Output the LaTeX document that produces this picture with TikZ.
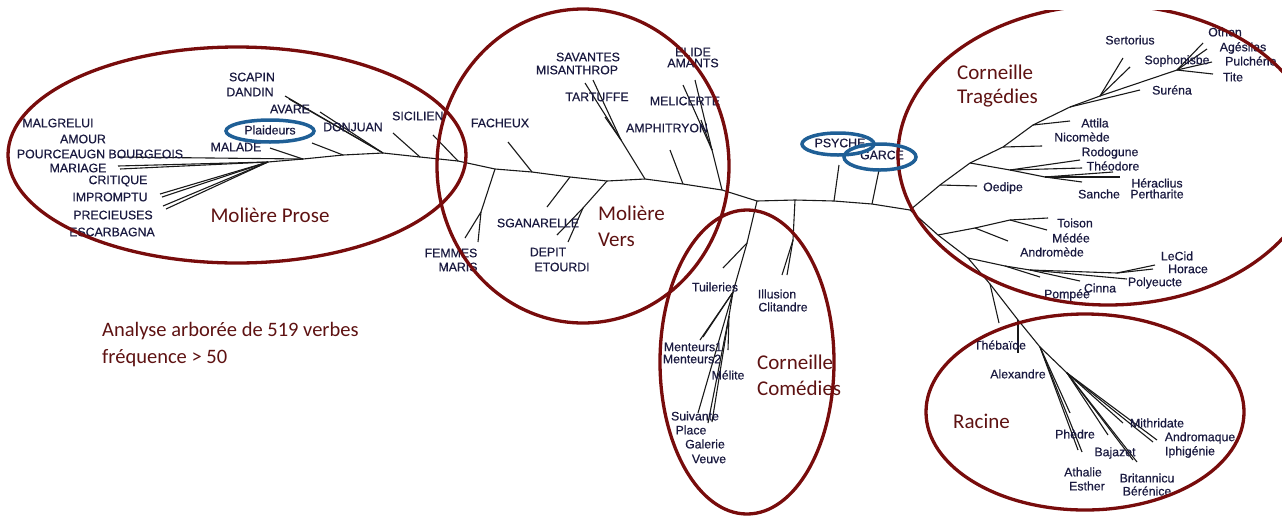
\documentclass[tikz,border=0pt]{standalone}
\usepackage{fontspec}
\setmainfont{Liberation Sans}
\newfontfamily\labfont[FakeBold=0.6]{Liberation Sans}
\newfontfamily\calfont{Carlito}
\definecolor{lbl}{HTML}{1A1A40}
\definecolor{grpred}{HTML}{780C0C}
\definecolor{bigred}{HTML}{5E1212}
\definecolor{hlblue}{HTML}{1F5F96}
\begin{document}
\begin{tikzpicture}[x=1pt,y=-1pt,
  lab/.style={font=\labfont\fontsize{12.3}{14}\selectfont, text=lbl, inner sep=0pt},
  big/.style={font=\calfont\fontsize{21}{25}\selectfont, text=bigred, inner sep=0pt, anchor=west},
  br/.style={draw=black!90, line width=1.1pt},
  grp/.style={draw=grpred, line width=3.3pt},
  hl/.style={draw=hlblue, line width=3.5pt}]
\useasboundingbox (0,0) rectangle (1282,515);
% ---------- Moliere prose
\coordinate (mp0) at (303,159);
\coordinate (bourg) at (118,157);
\coordinate (mj1) at (268,162);
\coordinate (mar1) at (118,166);
\coordinate (mar2) at (120,169);
\coordinate (cri1) at (160,194);
\coordinate (cri2) at (162,197);
\coordinate (imp1) at (163,206);
\coordinate (imp2) at (166,209);
\coordinate (mal) at (270,148);
\coordinate (mp1) at (343,155);
\coordinate (pla) at (312,143);
\coordinate (mp2) at (383,153);
\coordinate (sca) at (285,96);
\coordinate (dan) at (289,99);
\coordinate (ava) at (320,112);
\coordinate (mp3) at (420,157);
\coordinate (sic) at (393,133);
\coordinate (mp4) at (458,161);
\coordinate (sic2) at (433,135);
% ---------- Moliere vers
\coordinate (mv0) at (495,169);
\coordinate (fmj) at (481,212);
\coordinate (fem) at (465,238);
\coordinate (mri) at (478,242);
\coordinate (mv1) at (532,172);
\coordinate (fac) at (508,142);
\coordinate (mv2) at (570,177);
\coordinate (sga) at (547,207);
\coordinate (mv3) at (607,181);
\coordinate (dpj) at (583,208);
\coordinate (dep) at (557,235);
\coordinate (eto) at (568,242);
\coordinate (mv4) at (645,179);
\coordinate (ttj) at (621,140);
\coordinate (sav) at (585,83);
\coordinate (mis) at (593,80);
\coordinate (tar) at (605,117);
\coordinate (mv5) at (683,184);
\coordinate (amp) at (670,150);
\coordinate (mv6) at (722,190);
\coordinate (elj) at (712,150);
\coordinate (eli) at (695,80);
\coordinate (ama) at (683,85);
\coordinate (mel) at (701,120);
% ---------- centre
\coordinate (ct0) at (757,201);
\coordinate (ct1) at (795,200);
\coordinate (ct2) at (834,201);
\coordinate (ct3) at (872,204);
\coordinate (ct4) at (910,210);
% ---------- Corneille comedies
\coordinate (cc1) at (747,243);
\coordinate (tui) at (723,268);
\coordinate (cc2) at (733,292);
\coordinate (men1) at (700,340);
\coordinate (men2) at (703,337);
\coordinate (cc3) at (729,316);
\coordinate (meli) at (728,350);
\coordinate (sui) at (698,413);
\coordinate (plc) at (708,423);
\coordinate (gal) at (712,422);
\coordinate (ilj) at (793,240);
\coordinate (ill) at (782,275);
\coordinate (cli) at (787,275);
\coordinate (psy) at (839,165);
\coordinate (gar) at (879,170);
% ---------- Corneille tragedies
\coordinate (tr1) at (940,185);
\coordinate (oed) at (977,186);
\coordinate (tr2) at (970,163);
\coordinate (g1) at (1010,170);
\coordinate (rod) at (1080,160);
\coordinate (theo) at (1082,168);
\coordinate (g2) at (1045,177);
\coordinate (her) at (1120,177);
\coordinate (per) at (1113,172);
\coordinate (san) at (1082,182);
\coordinate (tr3) at (1003,147);
\coordinate (nic) at (1042,146);
\coordinate (tr4) at (1033,125);
\coordinate (att) at (1070,121);
\coordinate (tr5) at (1070,107);
\coordinate (sur) at (1140,90);
\coordinate (tr6) at (1100,96);
\coordinate (ser) at (1123,58);
\coordinate (sop) at (1130,67);
\coordinate (tr7) at (1177,70);
\coordinate (oth) at (1203,43);
\coordinate (age) at (1207,49);
\coordinate (pul) at (1212,62);
\coordinate (tit) at (1213,74);
\coordinate (lo1) at (938,235);
\coordinate (to1) at (975,228);
\coordinate (to2) at (1010,220);
\coordinate (tois) at (1048,218);
\coordinate (med) at (1047,230);
\coordinate (andr) at (1008,241);
\coordinate (lo2) at (968,258);
\coordinate (lc1) at (1005,266);
\coordinate (pom) at (1040,277);
\coordinate (lc2) at (1030,270);
\coordinate (cin) at (1080,281);
\coordinate (lc3) at (1117,273);
\coordinate (lec) at (1155,265);
\coordinate (hor) at (1153,269);
\coordinate (pol) at (1127,279);
% ---------- Racine
\coordinate (lo3) at (990,284);
\coordinate (rx0) at (999,323);
\coordinate (ra1) at (1018,320);
\coordinate (theb) at (1018,353);
\coordinate (ra2) at (1040,347);
\coordinate (ath) at (1082,452);
\coordinate (est) at (1078,450);
\coordinate (phe) at (1070,413);
\coordinate (ra3) at (1067,373);
\coordinate (baj) at (1137,462);
\coordinate (bri) at (1133,460);
\coordinate (ber) at (1108,435);
\coordinate (mit) at (1123,423);
\coordinate (andq) at (1157,440);
\coordinate (iph) at (1153,442);
% ---------- branches
\foreach \a/\b in {bourg/mp0, mar1/mj1, mar2/mj1, cri1/mj1, cri2/mj1, imp1/mj1, imp2/mj1, mj1/mp0, mal/mp0,
  mp0/mp1, pla/mp1, mp1/mp2, sca/mp2, dan/mp2, ava/mp2, mp2/mp3, sic/mp3, mp3/mp4, sic2/mp4,
  mp4/mv0, mv0/fmj, fmj/fem, fmj/mri, mv0/mv1, fac/mv1, mv1/mv2, mv2/sga, mv2/mv3, mv3/dpj, dpj/dep, dpj/eto,
  mv3/mv4, mv4/ttj, ttj/sav, ttj/mis, ttj/tar, mv4/mv5, amp/mv5, mv5/mv6, mv6/elj, elj/eli, elj/ama, elj/mel,
  mv6/ct0, ct0/cc1, cc1/tui, cc1/cc2, cc2/men1, cc2/men2, cc2/cc3, cc3/meli, cc2/sui, cc3/plc, cc3/gal,
  ct0/ct1, ct1/ilj, ilj/ill, ilj/cli, ct1/ct2, ct2/psy, ct2/ct3, ct3/gar, ct3/ct4,
  ct4/tr1, tr1/oed, tr1/tr2, tr2/g1, g1/rod, g1/theo, g1/g2, g2/her, g2/per, g2/san, tr2/tr3, tr3/nic, tr3/tr4,
  tr4/att, tr4/tr5, tr5/sur, tr5/tr6, tr6/ser, tr6/sop, tr6/tr7, tr7/oth, tr7/age, tr7/pul, tr7/tit,
  ct4/lo1, lo1/to1, to1/to2, to2/tois, to2/med, to1/andr, lo1/lo2, lo2/lc1, lc1/pom, lc1/lc2, lc2/cin, lc2/lc3,
  lc3/lec, lc3/hor, lc2/pol, lo2/lo3, lo3/rx0, lo3/ra1, ra1/theb, ra1/ra2, ra2/ath, ra2/est, ra2/phe, ra2/ra3,
  ra3/baj, ra3/bri, ra3/ber, ra3/mit, ra3/andq, ra3/iph}
  \draw[br] (\a) -- (\b);
% ---------- labels Moliere prose
\node[lab] (lMALGRELUI) at (58,123) {MALGRELUI};
\node[lab] (lAMOUR) at (83,139) {AMOUR};
\node[lab] (lPOURC) at (100,154) {POURCEAUGN BOURGEOIS};
\node[lab] (lMARIAGE) at (78,168) {MARIAGE};
\node[lab] (lCRITIQUE) at (118,181) {CRITIQUE};
\node[lab] (lIMPROMPTU) at (110,197) {IMPROMPTU};
\node[lab] (lPRECIEUSES) at (113,215) {PRECIEUSES};
\node[lab] (lESCARBAGNA) at (112,232) {ESCARBAGNA};
\node[lab] (lSCAPIN) at (252,77) {SCAPIN};
\node[lab] (lDANDIN) at (250,92) {DANDIN};
\node[lab] (lAVARE) at (290,109) {AVARE};
\node[lab] (lPlaideurs) at (270,130) {Plaideurs};
\node[lab] (lMALADE) at (236,147) {MALADE};
\node[lab] (lDONJUAN) at (353,127) {DONJUAN};
\node[lab, anchor=west] (lSICILIEN) at (392,116) {SICILIEN};
% ---------- labels Moliere vers
\node[lab] (lFACHEUX) at (500,123) {FACHEUX};
\node[lab] (lSAVANTES) at (588,57) {SAVANTES};
\node[lab] (lMISANTHROP) at (577,70) {MISANTHROP};
\node[lab] (lTARTUFFE) at (597,97) {TARTUFFE};
\node[lab] (lELIDE) at (693,52) {ELIDE};
\node[lab] (lAMANTS) at (693,63) {AMANTS};
\node[lab] (lMELICERTE) at (685,101) {MELICERTE};
\node[lab] (lAMPHITRYON) at (667,128) {AMPHITRYON};
\node[lab] (lSGANARELLE) at (538,223) {SGANARELLE};
\node[lab] (lDEPIT) at (548,252) {DEPIT};
\node[lab] (lETOURDI) at (562,267) {ETOURDI};
\node[lab] (lFEMMES) at (451,253) {FEMMES};
\node[lab] (lMARIS) at (458,267) {MARIS};
% ---------- labels Corneille comedies
\node[lab] (lTuileries) at (715,287) {Tuileries};
\node[lab] (lIllusion) at (777,294) {Illusion};
\node[lab] (lClitandre) at (783,307) {Clitandre};
\node[lab] (lMenteurs1) at (693,347) {Menteurs1};
\node[lab] (lMenteurs2) at (692,359) {Menteurs2};
\node[lab] (lMelite) at (728,375) {Mélite};
\node[lab] (lSuivante) at (695,416) {Suivante};
\node[lab] (lPlace) at (691,430) {Place};
\node[lab] (lGalerie) at (705,444) {Galerie};
\node[lab] (lVeuve) at (709,459) {Veuve};
\node[lab] (lPSYCHE) at (840,143) {PSYCHE};
\node[lab] (lGARCE) at (882,155) {GARCE};
% ---------- labels Corneille tragedies
\node[lab] (lSertorius) at (1130,40) {Sertorius};
\node[lab] (lSophonisbe) at (1177,61) {Sophonisbe};
\node[lab] (lOthon) at (1225,32) {Othon};
\node[lab] (lAgesilas) at (1243,48) {Agésilas};
\node[lab, anchor=west] (lPulcherie) at (1225,61) {Pulchérie};
\node[lab] (lTite) at (1233,77) {Tite};
\node[lab] (lSurena) at (1172,90) {Suréna};
\node[lab] (lAttila) at (1095,123) {Attila};
\node[lab] (lNicomede) at (1082,137) {Nicomède};
\node[lab] (lRodogune) at (1110,153) {Rodogune};
\node[lab] (lTheodore) at (1113,166) {Théodore};
\node[lab] (lHeraclius) at (1157,183) {Héraclius};
\node[lab] (lSanche) at (1099,194) {Sanche};
\node[lab] (lPertharite) at (1157,194) {Pertharite};
\node[lab] (lOedipe) at (1003,188) {Oedipe};
\node[lab] (lToison) at (1075,223) {Toison};
\node[lab] (lMedee) at (1071,238) {Médée};
\node[lab] (lAndromede) at (1052,252) {Andromède};
\node[lab] (lLeCid) at (1177,256) {LeCid};
\node[lab] (lHorace) at (1188,269) {Horace};
\node[lab] (lPolyeucte) at (1155,283) {Polyeucte};
\node[lab] (lCinna) at (1100,288) {Cinna};
\node[lab] (lPompee) at (1067,295) {Pompée};
% ---------- labels Racine
\node[lab] (lThebaide) at (1000,345) {Thébaïde};
\node[lab] (lAlexandre) at (1018,374) {Alexandre};
\node[lab] (lPhedre) at (1075,434) {Phèdre};
\node[lab] (lMithridate) at (1157,423) {Mithridate};
\node[lab] (lAndromaque) at (1200,438) {Andromaque};
\node[lab] (lIphigenie) at (1190,452) {Iphigénie};
\node[lab] (lBajazet) at (1115,453) {Bajazet};
\node[lab] (lAthalie) at (1083,472) {Athalie};
\node[lab] (lEsther) at (1087,486) {Esther};
\node[lab] (lBritannicu) at (1147,478) {Britannicu};
\node[lab] (lBerenice) at (1147,491) {Bérénice};
% ---------- group titles
\node[big, anchor=center] (gMP) at (270,215) {Molière Prose};
\node[big] (gMV1) at (598,213) {Molière};
\node[big] (gMV2) at (598,240) {Vers};
\node[big] (gCC1) at (757,362) {Corneille};
\node[big] (gCC2) at (757,388) {Comédies};
\node[big] (gCT1) at (957,72) {Corneille};
\node[big] (gCT2) at (957,98) {Tragédies};
\node[big] (gRA) at (953,421) {Racine};
\node[big, font=\calfont\fontsize{20.5}{25}\selectfont] (note1) at (102,331) {Analyse arborée de 519 verbes};
\node[big, font=\calfont\fontsize{20.5}{25}\selectfont] (note2) at (102,358) {fréquence > 50};
% ---------- group ellipses
\draw[grp] (237,155) ellipse [x radius=229, y radius=108];
\draw[grp] (583,166) ellipse [x radius=146, y radius=157];
\draw[grp] (747,362) ellipse [x radius=87, y radius=152];
\begin{scope}
  \clip (0,10) rectangle (1282,515);
  \draw[grp] (1108,155) ellipse [x radius=210, y radius=150];
\end{scope}
\draw[grp] (1085,412) ellipse [x radius=159, y radius=98];
% ---------- highlight ellipses
\draw[hl] (270,131) ellipse [x radius=44, y radius=11];
\draw[hl] (838,144) ellipse [x radius=36, y radius=11];
\draw[hl] (880,157) ellipse [x radius=36, y radius=13];
\end{tikzpicture}
\end{document}
